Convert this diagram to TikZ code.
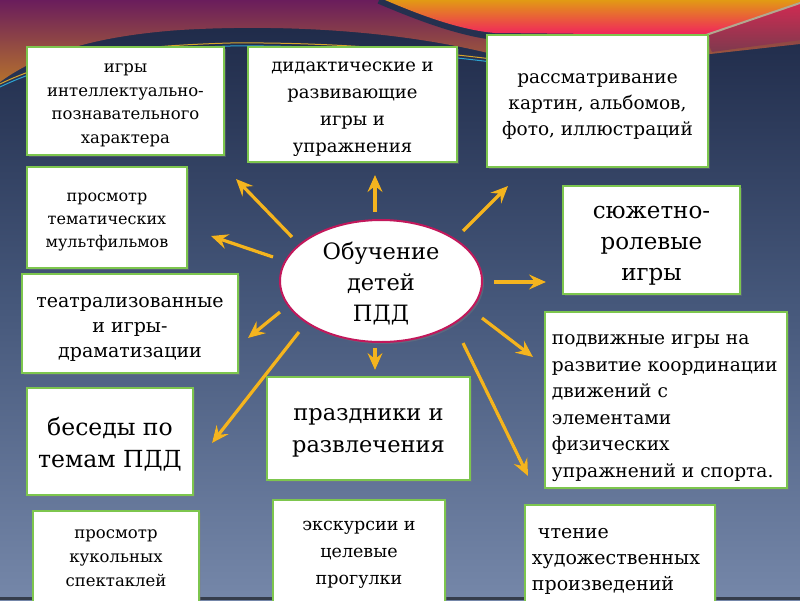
\documentclass[tikz,border=0pt]{standalone}
\usepackage{fontspec}
\setmainfont{DejaVu Serif}
\usetikzlibrary{shadows,arrows.meta,shapes.geometric}
\definecolor{bgtop}{HTML}{1C2745}
\definecolor{bgmid}{HTML}{45577A}
\definecolor{bgbot}{HTML}{7587A9}
\definecolor{bandAtop}{HTML}{6A1D5C}
\definecolor{bandAbot}{HTML}{B4702E}
\definecolor{bandBtop}{HTML}{E29A14}
\definecolor{bandBbot}{HTML}{F1215F}
\definecolor{wedgetop}{HTML}{D02A52}
\definecolor{wedgebot}{HTML}{7E3A4E}
\definecolor{stripe}{HTML}{25304F}
\definecolor{goldline}{HTML}{D8A52B}
\definecolor{cyanline}{HTML}{2CA4D2}
\definecolor{greyline}{HTML}{B2A890}
\definecolor{boxgreen}{HTML}{7DC64E}
\definecolor{ellred}{HTML}{C2185B}
\definecolor{arrowc}{HTML}{F4B41F}
\begin{document}
\begin{tikzpicture}[x=1pt,y=-1pt,
  box/.style={draw=boxgreen, line width=2.5pt, fill=white, inner sep=0pt,
    drop shadow={opacity=0.35, shadow xshift=2pt, shadow yshift=-2pt}},
  txt/.style={inner sep=0pt, text=black, align=center},
  arr/.style={draw=arrowc, line width=3.3pt, -{Stealth[length=17pt,width=15pt,inset=6pt]}},
  fs/.style 2 args={font=\fontsize{#1}{#2}\selectfont}]
\useasboundingbox (0,0) rectangle (800,600);
\clip (0,0) rectangle (800,600);
% background
\shade[top color=bgtop, bottom color=bgbot, middle color=bgmid] (0,0) rectangle (800,600);
% top band A
\shade[top color=bandAtop, bottom color=bandAbot]
  (0,0) -- (800,0) -- (800,44) -- (710,54) -- (500,56)
  .. controls (400,30) and (280,24) .. (180,30)
  .. controls (80,37) and (30,60) .. (0,82) -- cycle;
% thin lines
\draw[goldline, line width=1pt] (0,84) .. controls (60,55) and (130,46) .. (230,43) .. controls (330,42) and (420,50) .. (500,60);
\draw[cyanline, line width=1pt] (0,87) .. controls (60,58) and (130,49) .. (230,46) .. controls (330,45) and (420,53) .. (500,63);
% right wedge under the grey line
\shade[top color=wedgetop, bottom color=wedgebot]
  (705,36) -- (800,3) -- (800,40) -- (712,52) -- cycle;
% dark stripe and band B
\draw[stripe, line width=12pt] (380,-2) .. controls (420,15) and (460,30) .. (495,34) -- (705,37);
\shade[top color=bandBtop, bottom color=bandBbot]
  (385,0) .. controls (420,15) and (460,30) .. (495,33) -- (705,35) -- (800,3) -- (800,0) -- cycle;
\draw[greyline, line width=2pt] (703,36) -- (800,3);
% bottom strip
\fill[black!55!bgbot] (0,597) rectangle (800,600);

% centre
\node[draw=ellred, line width=2pt, fill=white, ellipse, minimum width=202pt, minimum height=122pt,
  inner sep=0pt, drop shadow={opacity=0.35, shadow xshift=2pt, shadow yshift=-2pt}]
  (c) at (381,281) {};
\node[txt, fs={22.5}{31}] (ct) at ([yshift=-3pt]c.center) {Обучение\\детей\\ПДД};

% boxes (frames)
\node[box, minimum width=197pt, minimum height=108pt] (b1) at (125.5,101) {};
\node[box, minimum width=209pt, minimum height=115pt] (b2) at (352.5,104.5) {};
\node[box, minimum width=221pt, minimum height=132pt] (b3) at (597.5,101) {};
\node[box, minimum width=160pt, minimum height=101pt] (b4) at (107,217.5) {};
\node[box, minimum width=177pt, minimum height=108pt] (b5) at (651.5,240) {};
\node[box, minimum width=216pt, minimum height=99pt] (b6) at (130,323.5) {};
\node[box, minimum width=242pt, minimum height=176pt] (b7) at (666,400) {};
\node[box, minimum width=166pt, minimum height=107pt] (b8) at (110,441.5) {};
\node[box, minimum width=203pt, minimum height=103pt] (b9) at (368.5,428.5) {};
\node[box, minimum width=166pt, minimum height=94pt] (b10) at (116,558) {};
\node[box, minimum width=172pt, minimum height=106pt] (b11) at (359,553) {};
\node[box, minimum width=190pt, minimum height=100pt] (b12) at (620,555) {};

% texts
\node[txt, fs={16.5}{23.5}] (t1) at ([yshift=-4.5pt]b1.center)
  {игры\\интеллектуально-\\познавательного\\характера};
\node[txt, fs={18}{27}] (t2) at ([yshift=-5pt]b2.center)
  {дидактические и\\развивающие\\игры и\\упражнения};
\node[txt, fs={18.5}{26}] (t3) at ([yshift=-5pt]b3.center)
  {рассматривание\\картин, альбомов,\\фото, иллюстраций};
\node[txt, fs={16}{23}] (t4) at ([yshift=-5pt]b4.center)
  {просмотр\\тематических\\мультфильмов};
\node[txt, fs={23}{31}] (t5) at ([yshift=-6pt]b5.center)
  {сюжетно-\\ролевые\\игры};
\node[txt, fs={19}{25}] (t6) at ([yshift=-6pt]b6.center)
  {театрализованные\\и игры-\\драматизации};
\node[txt, align=left, anchor=west, fs={18.6}{26.6}] (t7) at ([xshift=8pt,yshift=-8pt]b7.west)
  {подвижные игры на\\развитие координации\\движений с\\элементами\\физических\\упражнений и спорта.};
\node[txt, fs={23.5}{32}] (t8) at ([yshift=-3pt]b8.center)
  {беседы по\\темам ПДД};
\node[txt, fs={22.5}{32}] (t9) at ([yshift=-4pt]b9.center)
  {праздники и\\развлечения};
\node[txt, fs={16.5}{24}] (t10) at (b10.center)
  {просмотр\\кукольных\\спектаклей};
\node[txt, fs={17.5}{27}] (t11) at ([yshift=-2pt]b11.center)
  {экскурсии и\\целевые\\прогулки};
\node[txt, align=left, anchor=west, fs={19}{26}] (t12) at ([xshift=8pt,yshift=-6pt]b12.west)
  {\ чтение\\художественных\\произведений};

% arrow ends
\coordinate (s1) at (375,212); \coordinate (e1) at (375,175);
\coordinate (s2) at (292,237); \coordinate (e2) at (236,179);
\coordinate (s3) at (273,257); \coordinate (e3) at (211,236);
\coordinate (s4) at (463,231); \coordinate (e4) at (508,186);
\coordinate (s5) at (494,282); \coordinate (e5) at (546,282);
\coordinate (s6) at (280,312); \coordinate (e6) at (248,338);
\coordinate (s7) at (375,348); \coordinate (e7) at (375,370);
\coordinate (s8) at (482,318); \coordinate (e8) at (533,357);
\coordinate (s9) at (299,332); \coordinate (e9) at (212,443);
\coordinate (s10) at (463,343); \coordinate (e10) at (528,476);
\foreach \i in {1,...,10} {
  \draw[arr, draw=black, opacity=0.25, shift={(2,2)}] (s\i) -- (e\i);
  \draw[arr] (s\i) -- (e\i);
}
\end{tikzpicture}
\end{document}
